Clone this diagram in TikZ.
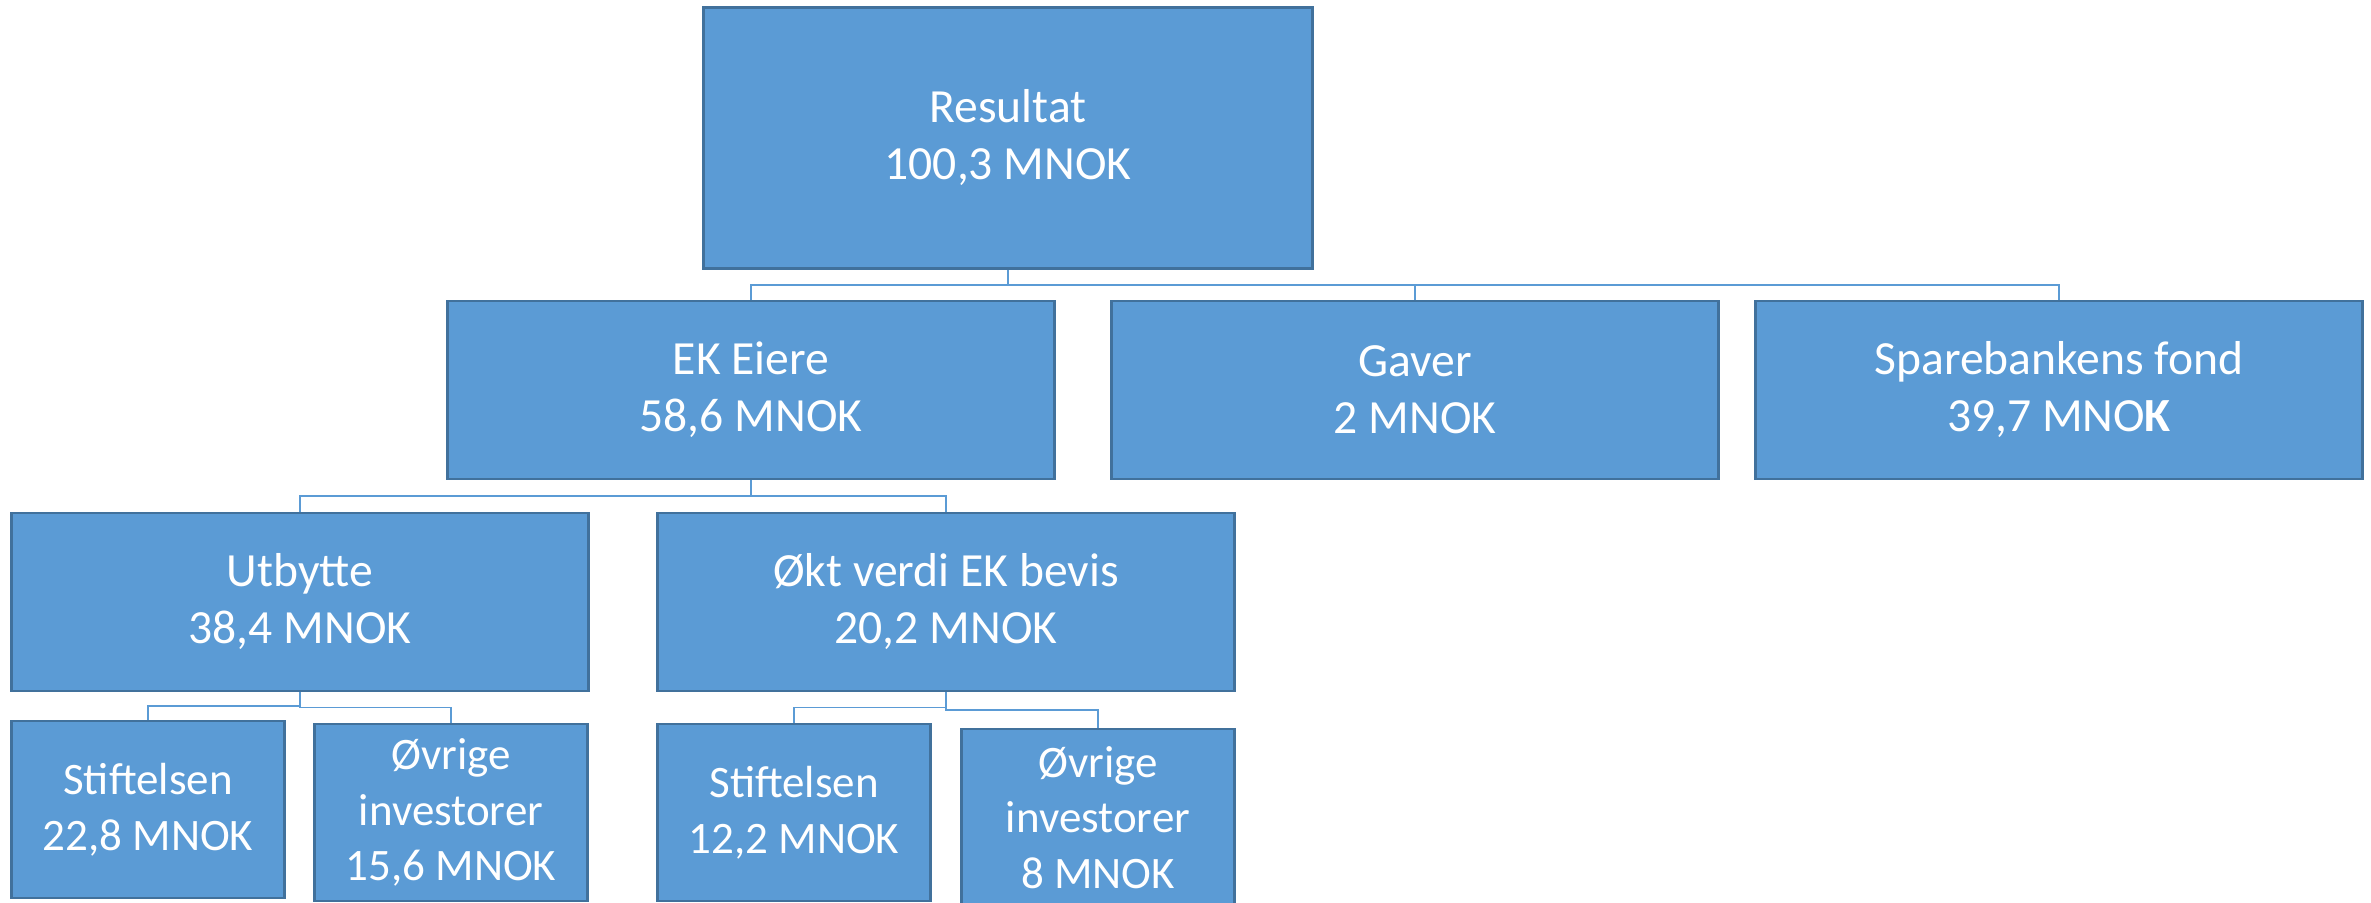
\documentclass[tikz,border=0pt]{standalone}
\usepackage{fontspec}
\setmainfont{Carlito}
\usetikzlibrary{calc}
\definecolor{boxfill}{HTML}{5B9BD5}
\definecolor{boxline}{HTML}{41719C}
\tikzset{
    x=0.5pt, y=-0.5pt,
    orgbox/.style={rectangle, fill=boxfill, draw=boxline, line width=1.4pt,
        text=white, align=center, inner sep=0pt,
        font=\fontsize{23.8}{28.5}\selectfont},
    bigbox/.style={orgbox, minimum width=303.5pt, minimum height=89pt},
    midbox/.style={orgbox, minimum width=288.5pt, minimum height=89pt},
    smallbox/.style={orgbox, minimum width=136.5pt, minimum height=88.5pt,
        font=\fontsize{22.5}{27.8}\selectfont},
    conn/.style={draw=boxfill, line width=0.8pt},
}

\begin{document}
\begin{tikzpicture}
    \useasboundingbox (0,0) rectangle (2371,902);

    \node[orgbox, minimum width=304.5pt, minimum height=130.5pt] (res) at (1008,138) {Resultat\\100,3 MNOK};

    \node[bigbox] (ekeiere) at (751,390)  {EK Eiere\\58,6 MNOK};
    \node[bigbox] (gaver)   at (1415,390) {Gaver\\2 MNOK};
    \node[bigbox] (fond)    at (2059,390) {Sparebankens fond\\39,7 MNO\textbf{K}};

    \node[midbox] (utbytte) at (300,602) {Utbytte\\38,4 MNOK};
    \node[midbox] (okt)     at (946,602) {Økt verdi EK bevis\\20,2 MNOK};

    \node[smallbox] (stift1)  at (148,809.5)  {Stiftelsen\\22,8 MNOK};
    \node[smallbox] (ovrige1) at (451,812.5)  {Øvrige\\investorer\\15,6 MNOK};
    \node[smallbox] (stift2)  at (794,812.5)  {Stiftelsen\\12,2 MNOK};
    \node[smallbox] (ovrige2) at (1098,817.5) {Øvrige\\investorer\\8 MNOK};

    % elbow connectors, bend halfway between the boxes
    \foreach \a/\b in {res/ekeiere, res/gaver, res/fond,
                       ekeiere/utbytte, ekeiere/okt,
                       utbytte/stift1, utbytte/ovrige1,
                       okt/stift2, okt/ovrige2}
        \draw[conn] (\a.south) |- ($(\a.south)!.5!(\b.north)$) -| (\b.north);
\end{tikzpicture}
\end{document}
